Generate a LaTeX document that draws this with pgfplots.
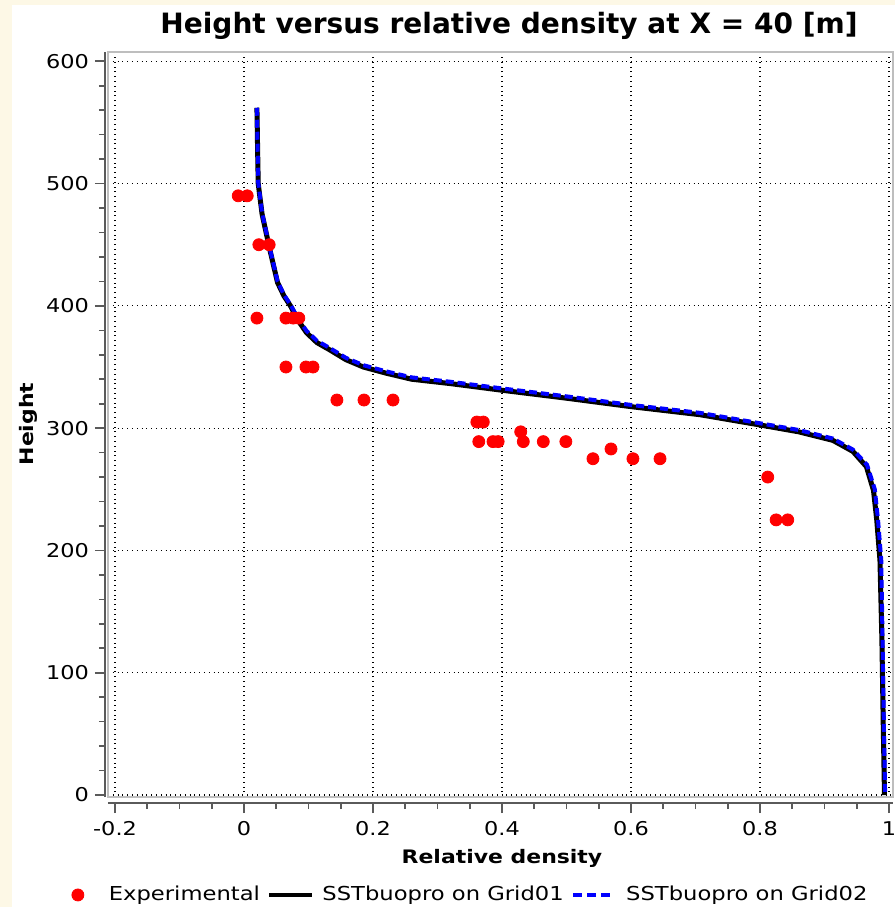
\documentclass[border=0pt]{standalone}
\usepackage{pgfplots}
\pgfplotsset{compat=1.18}
\usepackage{pgfplotstable}
\usepackage{fontspec}
\setmainfont{DejaVu Sans}
\newfontfamily\wide[FakeStretch=1.18]{DejaVu Sans}
\definecolor{cream}{RGB}{253,248,230}
\definecolor{framegray}{RGB}{190,190,190}
\definecolor{axisgray}{RGB}{90,90,90}

% Experimental points
\pgfplotstableread{
x y
-0.009 490
0.005 490
0.023 450
0.039 450
0.020 390
0.065 390
0.076 390
0.085 390
0.065 350
0.096 350
0.107 350
0.144 323
0.186 323
0.231 323
0.361 305
0.371 305
0.364 289
0.386 289
0.394 289
0.429 297
0.433 289
0.464 289
0.499 289
0.541 275
0.569 283
0.603 275
0.645 275
0.812 260
0.825 225
0.843 225
}\experimental

% SSTbuopro, Grid01
\pgfplotstableread{
x y
0.020 562
0.021 530
0.022 500
0.028 475
0.040 446
0.052 419
0.062 408
0.072 400
0.084 388
0.097 378
0.113 370
0.133 364
0.158 356
0.185 350
0.220 345
0.260 340
0.319 336.5
0.400 331
0.500 324.5
0.600 317.6
0.707 311
0.800 302.6
0.860 297
0.913 290
0.944 281
0.965 268.5
0.976 249
0.981 225
0.986 192
0.989 127
0.991 60
0.993 0
}\gridone

% SSTbuopro, Grid02
\pgfplotstableread{
x y
0.020 562
0.021 531
0.022 501
0.028 476
0.040 447
0.052 420
0.062 409
0.072 401
0.084 389.5
0.097 379.5
0.113 371.5
0.133 365.5
0.158 357.5
0.185 351.5
0.220 346.5
0.260 341.5
0.319 338
0.400 332.5
0.500 326
0.600 319
0.707 312.5
0.800 304
0.860 298.5
0.913 291.5
0.944 282.5
0.966 270
0.978 250
0.983 225
0.988 192
0.990 127
0.992 60
0.994 0
}\gridtwo

\begin{document}
\begin{tikzpicture}[x=0.5pt,y=0.5pt]
\fill[cream] (0,0) rectangle (895,907);
\fill[white] (12,0) rectangle (895,902);
\useasboundingbox (0,0) rectangle (895,907);
\begin{axis}[
  at={(54pt,55pt)}, anchor=south west,
  scale only axis, width=392.5pt, height=372.5pt,
  xmin=-0.2109, xmax=1.0062, ymin=-1.6, ymax=607.6,
  axis line style={draw=none},
  xtick pos=bottom, ytick pos=left,
  xtick={-0.2,0,0.2,0.4,0.6,0.8,1},
  xticklabels={-0.2,0,0.2,0.4,0.6,0.8,1},
  ytick={0,100,200,300,400,500,600},
  yticklabels={0,100,200,300,400,500,600},
  minor x tick num=3, minor y tick num=4,
  tick align=outside,
  major tick length=5pt, minor tick length=3pt,
  tick style={axisgray, line width=0.8pt},
  x tick style={yshift=-3pt},
  y tick style={xshift=-1.5pt},
  tick label style={font=\wide\fontsize{9.5}{11}\selectfont, text=black},
  xticklabel style={yshift=-3.9pt},
  yticklabel style={xshift=-1pt},
  grid=major,
  major grid style={black, dotted, line width=0.6pt},
  legend style={at={(0.4605,-0.1315)}, anchor=center, draw=none, fill=none,
    legend columns=3, font=\wide\fontsize{9.6}{11}\selectfont,
    nodes={inner xsep=0pt},
    /tikz/every odd column/.append style={column sep=4pt},
    /tikz/every even column/.append style={column sep=3.75pt}},
  clip=false,
]
\addplot[only marks, mark=*, mark size=3pt, color=red,
  legend image code/.code={%
    \path[draw=none, fill=none] (-3pt,0pt) -- (11.5pt,0pt);
    \fill[red] (0pt,0pt) circle[radius=3pt];}]
  table {\experimental};
\addlegendentry{Experimental}
\addplot[black, line width=2.5pt, no marks,
  legend image code/.code={%
    \path[draw=none, fill=none] (0pt,0pt) -- (22pt,0pt);
    \draw[black, line width=2pt] (0pt,0pt) -- (21.5pt,0pt);}]
  table {\gridone};
\addlegendentry{SSTbuopro on Grid01}
\addplot[blue, line width=2pt, no marks, dash pattern=on 4pt off 2pt,
  legend image code/.code={%
    \path[draw=none, fill=none] (0pt,0pt) -- (22.5pt,0pt);
    \draw[blue, line width=2pt, dash pattern=on 4.5pt off 2.5pt] (0pt,0pt) -- (18.5pt,0pt);}]
  table {\gridtwo};
\addlegendentry{SSTbuopro on Grid02}
% plot frame and the two offset axis lines
\draw[framegray, line width=1pt] (rel axis cs:0,0) rectangle (rel axis cs:1,1);
\draw[axisgray, line width=0.8pt] ([yshift=-3pt]rel axis cs:0,0) -- ([yshift=-3pt]rel axis cs:1,0);
\draw[axisgray, line width=0.8pt] ([xshift=-1.5pt]rel axis cs:0,0) -- ([xshift=-1.5pt]rel axis cs:0,1);
\end{axis}
% title and axis labels
\node[anchor=base, font=\bfseries\fontsize{14}{16}\selectfont] at (509,873)
  {Height versus relative density at X = 40 [m]};
\node[anchor=base, font=\wide\bfseries\fontsize{9.3}{11}\selectfont] at (502,44)
  {Relative density};
\node[anchor=base, rotate=90, font=\wide\bfseries\fontsize{9.3}{11}\selectfont] at (33.3,483)
  {Height};
\end{tikzpicture}
\end{document}
